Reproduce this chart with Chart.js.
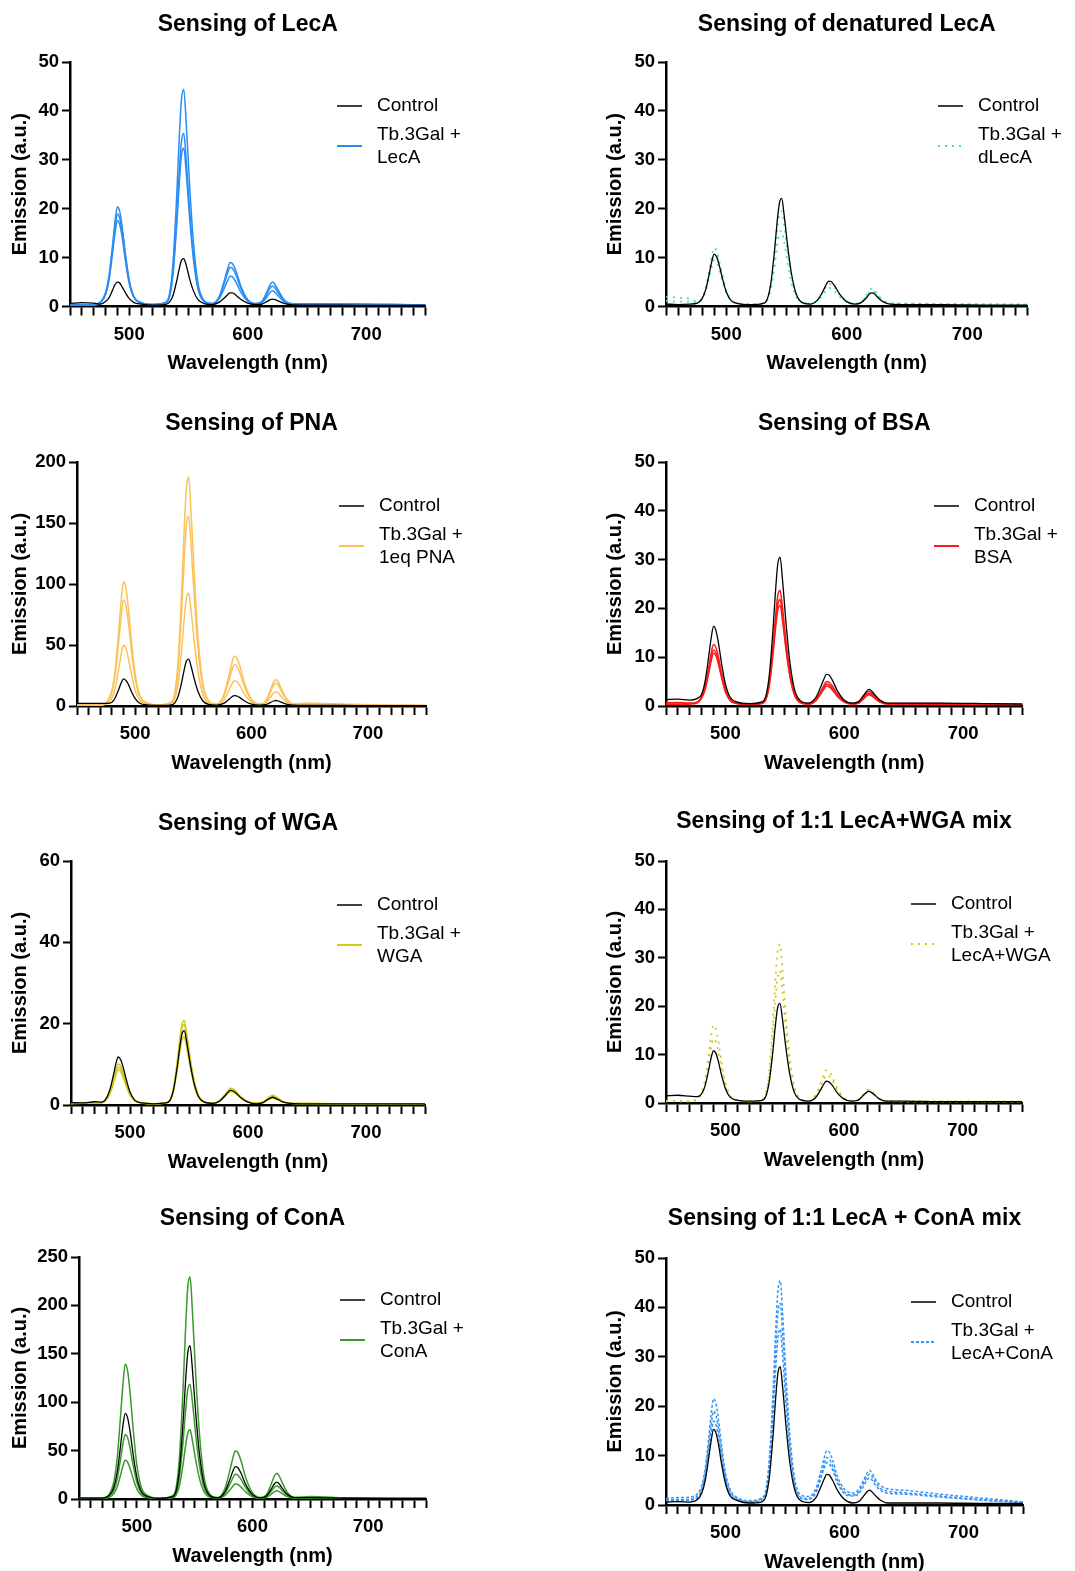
<!DOCTYPE html>
<html>
<head>
<meta charset="utf-8">
<script src="https://cdn.jsdelivr.net/npm/chart.js@4.4.1/dist/chart.umd.min.js"></script>
<style>
  body { margin: 0; background: #fff; width: 1075px; height: 1571px; position: relative; overflow: hidden; }
  canvas { position: absolute; }
</style>
</head>
<body>
<canvas id="c1"></canvas><canvas id="c2"></canvas>
<canvas id="c3"></canvas><canvas id="c4"></canvas>
<canvas id="c5"></canvas><canvas id="c6"></canvas>
<canvas id="c7"></canvas><canvas id="c8"></canvas>
<script>
// wavelength grid (nm), shared by every spectrum
const wavelength = [450,460,470,476,480,483,486,488,490,492,494,497,500,504,510,520,530,534,537,540,542,544,546,548,551,554,558,563,570,576,580,583,585,587,590,594,600,607,612,616,619,621,623,626,630,636,650,680,720,750];

// Sensing of LecA
const lecaControl = [0.6,0.8,0.7, 0.5,1.0,1.8,3.4,4.5,5.0,4.8,4.0,2.7,1.6,0.8,0.5, 0.3, 0.4,0.9,2.3,5.2,7.5,9.4,9.8,8.5,5.6,3.3,1.4,0.6, 0.4,0.9,1.7,2.4,2.8,2.8,2.3,1.5,0.7,0.4, 0.5,1.0,1.4,1.5,1.4,1.1,0.7,0.4, 0.3,0.3,0.2,0.2];
const lecaRep1 = [0.3,0.3,0.4, 1.0,2.8,6.4,12.8,17.4,20.4,19.4,16.4,10.4,5.4,2.0,0.8, 0.4, 0.8,2.6,9.2,22.4,33.4,42.2,44.4,37.8,24.6,13.6,4.8,1.3, 0.6,2.1,5.1,7.7,9.0,8.8,7.3,4.3,1.4,0.6, 1.1,2.9,4.5,5.0,4.5,3.2,1.6,0.6, 0.5,0.5,0.4,0.3];
const lecaRep2 = [0.3,0.4,0.3, 0.9,2.6,6.0,11.9,16.1,18.9,18.0,15.2,9.7,5.0,1.9,0.8, 0.4, 0.7,2.2,7.4,17.9,26.6,33.6,35.4,30.2,19.7,10.9,3.9,1.1, 0.6,1.9,4.6,6.9,8.0,7.8,6.5,3.8,1.3,0.6, 1.0,2.5,3.8,4.2,3.8,2.7,1.4,0.6, 0.5,0.5,0.4,0.3];
const lecaRep3 = [0.3,0.3,0.3, 0.8,2.4,5.5,11.1,15.0,17.6,16.7,14.2,9.0,4.7,1.8,0.7, 0.4, 0.7,2.0,6.8,16.4,24.4,30.8,32.4,27.6,18.0,10.0,3.6,1.0, 0.5,1.6,3.6,5.3,6.2,6.1,5.0,3.0,1.1,0.5, 0.8,1.9,2.9,3.2,2.9,2.1,1.1,0.5, 0.5,0.4,0.4,0.3];

// Sensing of denatured LecA
const dlecaControl = [0.5,0.4,0.5, 0.7,1.6,3.5,6.8,9.2,10.7,10.2,8.6,5.6,3.0,1.2,0.6, 0.4, 0.6,1.5,4.7,11.3,16.7,21.0,22.1,18.8,12.3,6.9,2.6,0.8, 0.5,1.4,3.0,4.5,5.2,5.1,4.2,2.6,1.0,0.5, 0.8,1.7,2.6,2.8,2.6,1.8,1.0,0.5, 0.4,0.4,0.3,0.3];
const dlecaRep1 = [2.0,1.8,1.6, 1.0,1.9,4.0,7.6,10.3,12.0,11.4,9.7,6.3,3.4,1.4,0.7, 0.5, 0.6,1.5,4.3,10.0,14.8,18.6,19.5,16.7,11.0,6.2,2.4,0.9, 0.6,1.3,2.8,4.1,4.7,4.6,3.9,2.4,1.0,0.6, 1.0,2.3,3.4,3.7,3.4,2.4,1.3,0.7, 0.6,0.5,0.5,0.4];
const dlecaRep2 = [1.2,1.0,1.0, 0.8,1.6,3.2,6.1,8.2,9.5,9.1,7.7,5.0,2.8,1.2,0.7, 0.5, 0.6,1.3,3.5,8.0,11.8,14.8,15.5,13.3,8.8,5.0,2.0,0.8, 0.6,1.2,2.3,3.3,3.8,3.7,3.1,2.0,0.9,0.6, 0.9,2.0,3.0,3.3,3.0,2.2,1.2,0.6, 0.6,0.5,0.4,0.4];

// Sensing of PNA
const pnaControl = [2.2,2.2,2.2, 2.1,3.0,7.0,14.0,19.0,22.3,21.0,18.0,11.5,6.0,2.3,0.9, 0.5, 0.8,2.4,8.1,19.5,29.0,36.6,38.5,32.8,21.4,11.9,4.3,1.3, 0.7,2.1,4.9,7.3,8.5,8.3,6.9,4.1,1.5,0.7, 1.1,2.7,4.1,4.5,4.1,2.9,1.5,0.7, 0.5,0.4,0.3,0.3];
const pnaRep1 = [0.8,0.8,0.9, 3.9,12.9,31.1,63.4,86.7,101.8,96.8,81.6,51.3,26.0,8.9,2.8, 0.9, 2.7,10.2,38.2,94.3,141.0,178.4,187.8,159.8,103.7,56.9,19.5,4.5, 1.6,8.8,22.8,34.8,40.8,40.0,32.8,18.8,5.6,1.6, 4.0,12.4,19.7,21.8,19.7,13.4,6.1,1.9, 2.2,1.5,0.6,0.5];
const pnaRep2 = [0.8,0.8,0.8, 3.4,11.1,26.6,54.1,73.9,86.8,82.5,69.6,43.8,22.3,7.7,2.5, 0.8, 2.4,8.6,31.8,78.3,117.1,148.1,155.8,132.6,86.1,47.3,16.3,3.9, 1.5,7.4,19.0,28.9,33.8,33.2,27.2,15.7,4.8,1.5, 3.5,10.7,17.0,18.8,17.0,11.6,5.3,1.7, 2.0,1.3,0.6,0.5];
const pnaRep3 = [0.7,0.7,0.7, 2.2,6.6,15.4,31.1,42.4,49.7,47.3,39.9,25.2,12.9,4.6,1.7, 0.7, 1.6,5.3,19.1,46.7,69.7,88.1,92.7,78.9,51.3,28.3,9.9,2.5, 1.1,4.7,11.7,17.7,20.7,20.3,16.7,9.7,3.1,1.1, 2.3,6.7,10.6,11.7,10.6,7.3,3.4,1.2, 1.5,1.0,0.5,0.4];

// Sensing of BSA
const bsaControl = [1.3,1.4,1.2, 1.5,2.4,5.2,10.3,13.9,16.3,15.5,13.1,8.4,4.5,1.8,0.8, 0.5, 0.8,2.0,6.5,15.5,23.0,29.0,30.5,26.0,17.0,9.5,3.5,1.1, 0.6,1.7,3.8,5.6,6.5,6.4,5.3,3.2,1.2,0.6, 0.9,2.1,3.1,3.4,3.1,2.2,1.2,0.6, 0.6,0.6,0.5,0.4];
const bsaRep1 = [0.6,0.7,0.6, 0.8,1.9,4.1,8.0,10.8,12.6,12.0,10.2,6.5,3.5,1.4,0.6, 0.4, 0.6,1.6,5.1,12.1,17.9,22.5,23.7,20.2,13.2,7.4,2.7,0.9, 0.5,1.3,2.9,4.3,5.0,4.9,4.1,2.5,1.0,0.5, 0.8,1.8,2.7,3.0,2.7,2.0,1.1,0.5, 0.5,0.5,0.4,0.4];
const bsaRep2 = [0.4,0.4,0.5, 0.7,1.7,3.7,7.3,9.9,11.5,10.9,9.3,5.9,3.1,1.2,0.5, 0.3, 0.5,1.4,4.6,11.1,16.4,20.7,21.8,18.6,12.1,6.8,2.5,0.7, 0.4,1.1,2.6,3.9,4.5,4.4,3.7,2.2,0.8,0.4, 0.6,1.6,2.4,2.6,2.4,1.7,0.9,0.4, 0.4,0.4,0.3,0.3];
const bsaRep3 = [0.3,0.3,0.4, 0.6,1.6,3.4,6.8,9.2,10.8,10.3,8.7,5.6,2.9,1.1,0.5, 0.3, 0.5,1.3,4.4,10.5,15.5,19.6,20.6,17.6,11.5,6.4,2.3,0.7, 0.4,1.1,2.4,3.5,4.1,4.0,3.3,2.0,0.8,0.4, 0.6,1.4,2.1,2.3,2.1,1.5,0.8,0.4, 0.4,0.3,0.3,0.3];

// Sensing of WGA
const wgaControl = [0.6,0.5,0.8, 0.7,1.7,3.8,7.4,10.1,11.8,11.2,9.5,6.1,3.2,1.2,0.5, 0.3, 0.5,1.2,3.9,9.3,13.8,17.4,18.3,15.6,10.2,5.7,2.1,0.7, 0.4,1.0,2.1,3.1,3.6,3.5,2.9,1.8,0.7,0.3, 0.5,1.2,1.7,1.9,1.7,1.3,0.7,0.4, 0.3,0.3,0.3,0.3];
const wgaRep1 = [0.4,0.6,0.5, 0.6,1.5,3.2,6.4,8.6,10.1,9.6,8.1,5.2,2.7,1.1,0.5, 0.3, 0.5,1.3,4.4,10.6,15.7,19.8,20.8,17.7,11.6,6.5,2.4,0.7, 0.4,1.1,2.4,3.5,4.1,4.0,3.3,2.0,0.8,0.4, 0.6,1.5,2.2,2.4,2.2,1.6,0.8,0.4, 0.4,0.3,0.3,0.3];
const wgaRep2 = [0.5,0.4,0.6, 0.6,1.4,3.0,5.9,8.0,9.3,8.9,7.5,4.8,2.6,1.0,0.5, 0.3, 0.5,1.3,4.2,10.1,14.9,18.8,19.8,16.9,11.0,6.2,2.3,0.7, 0.4,1.0,2.2,3.3,3.8,3.7,3.1,1.9,0.7,0.4, 0.6,1.3,1.9,2.1,1.9,1.4,0.8,0.4, 0.3,0.3,0.3,0.3];
const wgaRep3 = [0.3,0.4,0.4, 0.5,1.3,2.8,5.4,7.4,8.6,8.2,6.9,4.5,2.4,1.0,0.5, 0.3, 0.5,1.1,3.6,8.6,12.7,16.0,16.8,14.3,9.4,5.3,2.0,0.6, 0.4,0.9,2.0,2.9,3.3,3.2,2.7,1.7,0.7,0.4, 0.5,1.1,1.6,1.8,1.6,1.2,0.7,0.4, 0.3,0.3,0.3,0.3];

// Sensing of 1:1 LecA+WGA mix
const mixWgaControl = [1.5,1.6,1.4, 1.3,1.9,3.6,6.9,9.3,10.8,10.3,8.7,5.6,3.0,1.2,0.6, 0.4, 0.5,1.3,4.4,10.5,15.6,19.6,20.6,17.6,11.5,6.4,2.3,0.7, 0.4,1.1,2.6,3.9,4.5,4.4,3.7,2.2,0.8,0.4, 0.6,1.5,2.2,2.4,2.2,1.6,0.8,0.4, 0.4,0.3,0.3,0.3];
const mixWgaRep1 = [0.3,0.4,0.3, 0.8,2.2,5.0,10.1,13.7,16.1,15.3,12.9,8.2,4.3,1.6,0.6, 0.3, 0.6,1.9,6.8,16.6,24.7,31.2,32.8,27.9,18.2,10.1,3.6,1.0, 0.4,1.6,3.9,5.8,6.8,6.7,5.5,3.2,1.1,0.4, 0.7,1.7,2.6,2.8,2.6,1.8,0.9,0.4, 0.4,0.4,0.3,0.3];
const mixWgaRep2 = [0.5,0.3,0.4, 0.7,1.9,4.2,8.4,11.4,13.3,12.7,10.7,6.8,3.6,1.3,0.6, 0.3, 0.6,1.6,5.7,13.8,20.6,25.9,27.3,23.3,15.2,8.4,3.0,0.8, 0.4,1.4,3.3,5.0,5.8,5.7,4.7,2.8,1.0,0.4, 0.6,1.6,2.4,2.6,2.4,1.7,0.9,0.4, 0.3,0.3,0.3,0.3];

// Sensing of ConA
const conaControl = [1.0,1.0,1.0, 3.6,11.6,27.4,55.6,75.8,88.5,84.1,70.9,44.5,22.5,7.5,2.3, 0.6, 2.1,8.4,32.1,79.5,119.0,150.6,158.5,134.8,87.4,47.9,16.3,3.7, 1.2,7.1,18.7,28.6,33.5,32.8,26.9,15.4,4.5,1.2, 3.1,9.9,15.8,17.5,15.8,10.7,4.8,1.4, 1.5,0.8,0.5,0.5];
const conaRep1 = [1.0,1.0,1.0, 4.7,17.2,42.2,86.7,118.7,139.5,132.6,111.7,70.0,35.2,11.6,3.3, 0.8, 2.8,12.0,46.3,115.0,172.3,218.1,229.5,195.2,126.5,69.2,23.4,5.1, 1.5,10.3,27.5,42.2,49.5,48.5,39.7,22.6,6.4,1.5, 4.4,14.8,23.9,26.5,23.9,16.1,7.0,1.8, 2.5,1.2,0.6,0.5];
const conaRep2 = [0.8,0.8,0.8, 2.8,8.7,20.6,41.7,56.9,66.6,63.5,53.6,33.8,17.3,6.1,2.1, 0.6, 1.8,6.5,24.2,59.6,89.1,112.7,118.6,100.9,65.5,36.0,12.4,3.0, 1.0,5.5,14.2,21.7,25.5,25.0,20.5,11.8,3.5,1.0, 2.5,7.7,12.2,13.5,12.2,8.3,3.8,1.2, 1.3,0.7,0.5,0.4];
const conaRep3 = [0.6,0.6,0.6, 1.8,5.3,12.5,25.1,34.2,40.1,38.1,32.2,20.4,10.5,3.8,1.4, 0.5, 1.2,4.1,14.7,36.0,53.8,67.9,71.5,60.9,39.6,21.8,7.6,1.9, 0.8,3.5,8.7,13.2,15.5,15.2,12.5,7.3,2.3,0.8, 1.7,4.9,7.7,8.5,7.7,5.3,2.5,0.9, 0.9,0.5,0.4,0.4];

// Sensing of 1:1 LecA + ConA mix
const mixConaControl = [0.6,0.7,0.6, 1.0,2.4,5.0,9.7,13.1,15.3,14.6,12.4,7.9,4.3,1.8,0.9, 0.4, 0.6,1.8,5.9,14.2,21.1,26.6,28.0,23.9,15.6,8.7,3.2,0.9, 0.5,1.5,3.6,5.3,6.2,6.1,5.0,3.0,1.1,0.4, 0.7,1.8,2.7,3.0,2.7,1.9,1.0,0.4, 0.4,0.4,0.3,0.3];
const mixConaRep1 = [1.3,1.5,1.6, 2.2,3.9,7.5,13.9,18.5,21.5,20.5,17.5,11.5,6.5,3.1,1.5, 0.9, 1.4,3.2,9.9,23.2,34.4,43.2,45.4,38.8,25.5,14.4,5.5,2.1, 1.7,3.4,6.7,9.6,11.0,10.8,9.1,5.8,3.2,2.4, 3.2,5.0,6.5,7.0,6.5,5.2,4.0,3.3, 3.0,2.2,1.3,0.6];
const mixConaRep2 = [1.0,1.1,1.2, 1.7,3.2,6.5,12.2,16.3,19.0,18.1,15.4,10.1,5.6,2.6,1.3, 0.7, 1.2,2.8,8.8,20.8,30.8,38.8,40.8,34.8,22.8,12.8,4.8,1.6, 1.3,2.9,5.8,8.3,9.6,9.4,7.9,5.0,2.6,2.0, 2.7,4.4,5.8,6.2,5.8,4.6,3.4,2.8, 2.5,1.8,1.0,0.5];
const mixConaRep3 = [0.8,0.9,1.0, 1.4,2.8,5.8,10.9,14.6,17.0,16.2,13.8,8.9,4.9,2.2,1.1, 0.6, 1.0,2.4,7.6,18.1,26.8,33.8,35.6,30.3,19.8,11.1,4.1,1.4, 1.1,2.5,5.2,7.5,8.6,8.4,7.1,4.5,2.3,1.8, 2.3,3.8,5.1,5.5,5.1,4.0,3.0,2.4, 2.2,1.6,0.9,0.5];

const FONT = "'Liberation Sans', Arial, sans-serif";
const Y_W = 50;  // fixed width of the y scale box
const X_H = 40;  // fixed height of the x scale box

// box = canvas [left, top, width, height]; area = plot area [left, top, right, bottom] (page px)
const panels = [
  { id: 'c1', box: [0, 0, 537, 395], area: [70, 62, 425.5, 306.5], yMax: 50, yStep: 10,
    title: 'Sensing of LecA', titleY: 24, yTitleX: 20, legX: 337, legY: 106,
    label: ['Tb.3Gal +', 'LecA'], color: '#2a8cf5', dash: [], width: 1.5,
    control: lecaControl, reps: [lecaRep1, lecaRep2, lecaRep3] },
  { id: 'c2', box: [537, 0, 538, 395], area: [666, 62, 1027.5, 306.5], yMax: 50, yStep: 10,
    title: 'Sensing of denatured LecA', titleY: 24, yTitleX: 615, legX: 938, legY: 106,
    label: ['Tb.3Gal +', 'dLecA'], color: '#40e2b8', dash: [2, 5], width: 1.7,
    control: dlecaControl, reps: [dlecaRep1, dlecaRep2] },
  { id: 'c3', box: [0, 395, 537, 400], area: [77, 462, 426, 706], yMax: 200, yStep: 50,
    title: 'Sensing of PNA', titleY: 423, yTitleX: 20, legX: 339, legY: 506,
    label: ['Tb.3Gal +', '1eq PNA'], color: '#fbc25a', dash: [], width: 1.5,
    control: pnaControl, reps: [pnaRep1, pnaRep2, pnaRep3] },
  { id: 'c4', box: [537, 395, 538, 400], area: [666, 462, 1022.5, 706], yMax: 50, yStep: 10,
    title: 'Sensing of BSA', titleY: 423, yTitleX: 615, legX: 934, legY: 506,
    label: ['Tb.3Gal +', 'BSA'], color: '#ff1a1a', dash: [], width: 1.5,
    control: bsaControl, reps: [bsaRep1, bsaRep2, bsaRep3] },
  { id: 'c5', box: [0, 795, 537, 395], area: [71, 861, 425, 1105], yMax: 60, yStep: 20,
    title: 'Sensing of WGA', titleY: 823, yTitleX: 20, legX: 337, legY: 905,
    label: ['Tb.3Gal +', 'WGA'], color: '#d2cc1e', dash: [], width: 1.5,
    control: wgaControl, reps: [wgaRep1, wgaRep2, wgaRep3] },
  { id: 'c6', box: [537, 795, 538, 395], area: [666, 861, 1022, 1103], yMax: 50, yStep: 10,
    title: 'Sensing of 1:1 LecA+WGA mix', titleY: 821, yTitleX: 615, legX: 911, legY: 904,
    label: ['Tb.3Gal +', 'LecA+WGA'], color: '#cfc81a', dash: [2, 5], width: 1.7,
    control: mixWgaControl, reps: [mixWgaRep1, mixWgaRep2] },
  { id: 'c7', box: [0, 1190, 537, 381], area: [79, 1257, 426, 1499], yMax: 250, yStep: 50,
    title: 'Sensing of ConA', titleY: 1218, yTitleX: 20, legX: 340, legY: 1300,
    label: ['Tb.3Gal +', 'ConA'], color: '#3a9a2c', dash: [], width: 1.5,
    control: conaControl, reps: [conaRep1, conaRep2, conaRep3] },
  { id: 'c8', box: [537, 1190, 538, 381], area: [666, 1258, 1023, 1505], yMax: 50, yStep: 10,
    title: 'Sensing of 1:1 LecA + ConA mix', titleY: 1218, yTitleX: 615, legX: 911, legY: 1302,
    label: ['Tb.3Gal +', 'LecA+ConA'], color: '#3a96f5', dash: [3, 2], width: 1.5,
    control: mixConaControl, reps: [mixConaRep1, mixConaRep2, mixConaRep3] }
];

function toPoints(values) {
  return wavelength.map((x, i) => ({ x: x, y: values[i] }));
}

// titles, axis titles and legend drawn in page positions
const panelText = {
  id: 'panelText',
  afterDraw(chart, args, opts) {
    const p = opts.panel;
    const ctx = chart.ctx;
    const bx = p.box[0], by = p.box[1];
    const ca = chart.chartArea;
    const cx = (ca.left + ca.right) / 2;
    ctx.save();
    ctx.fillStyle = '#000';
    ctx.textBaseline = 'middle';
    ctx.textAlign = 'center';
    ctx.font = 'bold 23px ' + FONT;
    ctx.fillText(p.title, cx, p.titleY + 1 - by);
    ctx.font = 'bold 20px ' + FONT;
    ctx.fillText('Wavelength (nm)', cx, ca.bottom + 57);
    ctx.save();
    ctx.translate(p.yTitleX - bx, (ca.top + ca.bottom) / 2);
    ctx.rotate(-Math.PI / 2);
    ctx.fillText('Emission (a.u.)', 0, 0);
    ctx.restore();
    // legend
    const lx = p.legX - bx, ly = p.legY - by;
    ctx.lineWidth = 1.5;
    ctx.strokeStyle = '#000';
    ctx.setLineDash([]);
    ctx.beginPath(); ctx.moveTo(lx, ly); ctx.lineTo(lx + 25, ly); ctx.stroke();
    ctx.strokeStyle = p.color;
    ctx.lineWidth = 2;
    ctx.setLineDash(p.dash);
    ctx.beginPath(); ctx.moveTo(lx, ly + 40); ctx.lineTo(lx + 25, ly + 40); ctx.stroke();
    ctx.setLineDash([]);
    ctx.textAlign = 'left';
    ctx.font = '19px ' + FONT;
    ctx.fillText('Control', lx + 40, ly);
    ctx.fillText(p.label[0], lx + 40, ly + 29);
    ctx.fillText(p.label[1], lx + 40, ly + 52);
    ctx.restore();
  }
};

panels.forEach(p => {
  const cv = document.getElementById(p.id);
  cv.width = p.box[2];
  cv.height = p.box[3];
  cv.style.left = p.box[0] + 'px';
  cv.style.top = p.box[1] + 'px';

  const datasets = [{
    data: toPoints(p.control),
    borderColor: '#000',
    borderWidth: 1.3,
    pointRadius: 0,
    cubicInterpolationMode: 'monotone'
  }];
  p.reps.forEach(r => {
    datasets.push({
      data: toPoints(r),
      borderColor: p.color,
      borderWidth: p.width,
      borderDash: p.dash,
      pointRadius: 0,
      cubicInterpolationMode: 'monotone'
    });
  });

  new Chart(cv, {
    type: 'line',
    data: { datasets: datasets },
    plugins: [panelText],
    options: {
      responsive: false,
      animation: false,
      events: [],
      layout: {
        padding: {
          left: p.area[0] - p.box[0] - Y_W,
          top: p.area[1] - p.box[1],
          right: p.box[0] + p.box[2] - p.area[2],
          bottom: p.box[1] + p.box[3] - p.area[3] - X_H
        }
      },
      plugins: {
        legend: { display: false },
        tooltip: { enabled: false },
        title: { display: false },
        panelText: { panel: p }
      },
      scales: {
        x: {
          type: 'linear',
          min: 450,
          max: 750,
          afterFit: s => { s.height = X_H; },
          border: { color: '#000', width: 2.5 },
          grid: { drawOnChartArea: false, drawTicks: true, tickLength: 9, tickWidth: 2, color: '#000' },
          ticks: {
            stepSize: 10,
            autoSkip: false,
            maxRotation: 0,
            padding: 8,
            color: '#000',
            font: { family: FONT, size: 18.5, weight: 'bold' },
            callback: v => (v % 100 === 0 ? String(v) : '')
          }
        },
        y: {
          min: 0,
          max: p.yMax,
          afterFit: s => { s.width = Y_W; },
          border: { color: '#000', width: 2.5 },
          grid: { drawOnChartArea: false, drawTicks: true, tickLength: 8, tickWidth: 2, color: '#000' },
          ticks: {
            stepSize: p.yStep,
            padding: 3,
            color: '#000',
            font: { family: FONT, size: 18.5, weight: 'bold' }
          }
        }
      }
    }
  });
});
</script>
</body>
</html>
